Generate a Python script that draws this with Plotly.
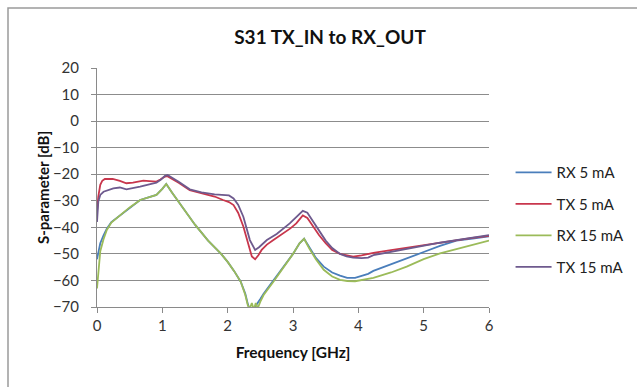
import plotly.graph_objects as go

# ---- data ----
rx5_f = [0, 0.02, 0.05, 0.1, 0.15, 0.22, 0.35, 0.5, 0.66, 0.8, 0.91, 1.0, 1.06, 1.15, 1.3, 1.5, 1.7, 1.9,
         2.0, 2.1, 2.2, 2.27, 2.31, 2.34, 2.37, 2.4, 2.43, 2.46, 2.5, 2.55, 2.7, 2.9, 3.0, 3.1, 3.17, 3.25, 3.35, 3.47,
         3.6, 3.72, 3.83, 3.95, 4.03, 4.15, 4.23, 4.5, 4.74, 5.0, 5.25, 5.5, 5.75, 6.0]
rx5_db = [-52, -50, -46, -43, -40.5, -38, -35.5, -32.5, -29.7, -28.6, -27.8, -25.5, -23.7, -27, -32, -39, -45, -50,
          -53, -56.5, -60.5, -65, -69, -71, -70.5, -71, -69.5, -68.5, -67, -65, -60, -53.5, -50, -46, -44.3, -47.5, -51.5, -54.8,
          -57, -58.2, -59, -59, -58.5, -57.5, -56.4, -54, -51.7, -49.3, -47, -45, -44.2, -43.4]

rx15_f = [0, 0.02, 0.05, 0.1, 0.15, 0.22, 0.35, 0.5, 0.66, 0.8, 0.91, 1.0, 1.06, 1.15, 1.3, 1.5, 1.7, 1.9,
          2.0, 2.1, 2.2, 2.27, 2.31, 2.34, 2.37, 2.4, 2.43, 2.46, 2.5, 2.55, 2.7, 2.9, 3.0, 3.1, 3.17, 3.25, 3.35, 3.47,
          3.6, 3.72, 3.83, 3.95, 4.03, 4.15, 4.23, 4.5, 4.74, 5.0, 5.25, 5.5, 5.75, 6.0]
rx15_db = [-63, -56, -49, -44.5, -41, -38.2, -35.5, -32.5, -29.7, -28.6, -27.8, -25.5, -23.7, -27, -32, -39, -45, -50,
           -53, -56.5, -60.5, -65.5, -69.5, -70.5, -68.5, -71, -68.5, -70.5, -68, -65.5, -60.5, -53.5, -50, -46, -44.3, -48, -52, -56,
           -58.5, -59.8, -60.2, -60.3, -60, -59.5, -59, -57, -54.8, -52, -49.8, -48.2, -46.6, -45]

tx5_f = [0, 0.02, 0.05, 0.08, 0.12, 0.24, 0.35, 0.45, 0.55, 0.71, 0.8, 0.91, 0.97, 1.03, 1.07, 1.15, 1.25, 1.42,
         1.6, 1.8, 1.93, 2.02, 2.09, 2.16, 2.24, 2.3, 2.37, 2.42, 2.47, 2.52, 2.6, 2.7, 2.82, 2.96, 3.05, 3.15,
         3.22, 3.3, 3.4, 3.5, 3.6, 3.72, 3.82, 3.92, 4.05, 4.23, 4.5, 4.74, 5.0, 5.25, 5.5, 5.75, 6.0]
tx5_db = [-34, -28.4, -24, -22.5, -21.8, -21.8, -22.5, -23.4, -23.2, -22.4, -22.6, -22.8, -22, -21, -20.7, -21.7, -23.2, -26,
          -27.2, -28.4, -29.7, -30.5, -31.6, -34.5, -39.7, -45, -51, -52, -50.5, -48.5, -46.5, -44.8, -42.8, -40.4, -38.5, -35.5,
          -36.5, -39.5, -43, -46, -48.5, -50, -50.6, -51, -50.6, -49.6, -48.6, -47.7, -46.6, -45.6, -44.8, -44, -43.2]

tx15_f = [0, 0.02, 0.05, 0.1, 0.25, 0.35, 0.45, 0.55, 0.66, 0.8, 0.91, 0.98, 1.04, 1.08, 1.15, 1.25, 1.42, 1.6,
          1.8, 1.93, 2.02, 2.09, 2.16, 2.24, 2.34, 2.42, 2.48, 2.6, 2.75, 2.95, 3.05, 3.15, 3.22, 3.3, 3.4, 3.5,
          3.6, 3.72, 3.82, 3.92, 4.05, 4.15, 4.23, 4.5, 4.74, 5.0, 5.25, 5.5, 5.75, 6.0]
tx15_db = [-38, -30.3, -27.8, -26.6, -25.3, -25, -25.7, -25.3, -24.7, -23.8, -23.2, -22, -20.6, -20.3, -21.2, -22.8, -25.7, -26.8,
           -27.6, -27.8, -28, -29.1, -31.5, -36, -44.8, -48.5, -47.5, -44.8, -42.5, -38.5, -36, -33.8, -34.5, -37.5, -41.5, -45,
           -47.8, -50, -50.9, -51.4, -51.6, -51.4, -50.5, -49.2, -48.3, -47, -45.8, -44.8, -43.8, -42.9]

series_names = ["RX 5 mA", "TX 5 mA", "RX 15 mA", "TX 15 mA"]
x_ticks = [0, 1, 2, 3, 4, 5, 6]
y_ticks = [20, 10, 0, -10, -20, -30, -40, -50, -60, -70]

# ---- figure ----
FONT = "Lato"
colors = ["#4A7EBB", "#C8364C", "#9BBB59", "#6E5A8E"]
data = [(rx5_f, rx5_db), (tx5_f, tx5_db), (rx15_f, rx15_db), (tx15_f, tx15_db)]

fig = go.Figure()
for i, (name, (xs, ys)) in enumerate(zip(series_names, data)):
    fig.add_trace(go.Scatter(x=xs, y=ys, mode="lines", name=name, legendgroup=name,
                             line=dict(color=colors[i], width=1.8)))

fig.update_layout(
    width=637, height=387,
    margin=dict(l=97, r=148, t=68, b=80, autoexpand=False),
    paper_bgcolor="white", plot_bgcolor="white",
    font=dict(family=FONT, size=14, color="#222222"),
    title=dict(text="<b>S31 TX_IN to RX_OUT</b>", x=330 / 637, xanchor="center",
               y=1 - 37 / 387, yanchor="middle", font=dict(size=19, color="#111111")),
    showlegend=True,
    legend=dict(x=1.055, xanchor="left", y=0.366, yanchor="middle",
                font=dict(size=15, color="#222222"), tracegroupgap=9,
                itemwidth=36, bgcolor="rgba(0,0,0,0)"),
    xaxis=dict(range=[0, 6], tickvals=x_ticks, showgrid=False, zeroline=False,
               showline=True, linecolor="#8a8a8a", linewidth=1,
               ticks="outside", ticklen=5, tickcolor="#8a8a8a",
               tickfont=dict(size=15, color="#333333"),
               title=dict(text="<b>Frequency [GHz]</b>", font=dict(size=15.5, color="#111111"), standoff=14)),
    yaxis=dict(range=[-70, 20], tickvals=y_ticks, showgrid=True, gridcolor="#8c8c8c", gridwidth=1,
               zeroline=False, showline=True, linecolor="#8a8a8a", linewidth=1,
               ticks="outside", ticklen=5, tickcolor="#8a8a8a", ticklabelstandoff=9,
               tickfont=dict(size=15, color="#333333")),
    annotations=[dict(text="<b>S-parameter [dB]</b>", xref="paper", yref="paper",
                      x=(43 - 97) / 392, y=(307 - 188) / 239, xanchor="center", yanchor="middle",
                      textangle=-90, showarrow=False, font=dict(size=15, color="#111111"))],
)

# outer chart frame (only its left and top edges fall inside the picture)
fig.add_shape(type="rect", xref="paper", yref="paper",
              x0=(8 - 97) / 392, x1=1.6, y0=-0.5, y1=(307 - 8) / 239,
              line=dict(color="#9a9a9a", width=1.5), layer="below")

fig.write_html("out.html")
